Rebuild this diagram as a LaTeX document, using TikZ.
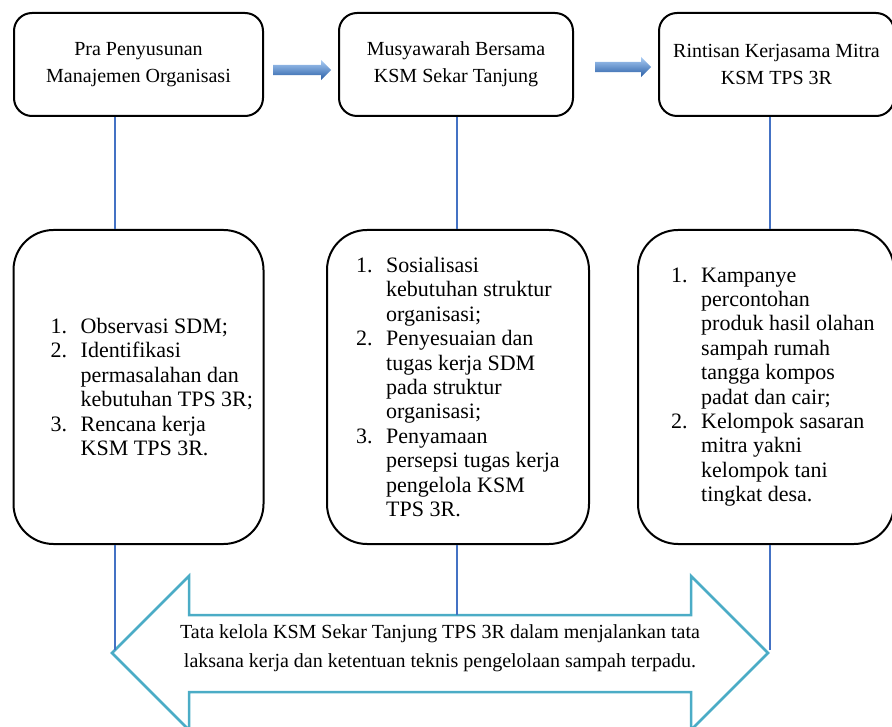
\documentclass[tikz,border=0pt]{standalone}
\usepackage{fontspec}
\setmainfont{Liberation Serif}
\usepackage{tikz}
\usetikzlibrary{positioning, shapes.arrows}
\definecolor{azulclaro}{RGB}{172,206,245}
\definecolor{azulmedio}{RGB}{80,140,214}
\definecolor{azuloscuro}{RGB}{38,92,165}
\definecolor{azullinea}{RGB}{68,114,196}
\definecolor{turquesa}{RGB}{75,172,198}
\tikzset{
	caja/.style={draw, line width=2pt, rounded corners=18pt, minimum height=103pt, align=center, font=\fontsize{20}{27}\selectfont}, % Cajas de arriba
	cajagrande/.style={draw, line width=2pt, rounded corners=40pt, minimum height=314pt}, % Cajas de abajo
	lista/.style={align=left, inner sep=0pt, font=\fontsize{22}{24.4}\selectfont}, % Texto de las listas
	enlace/.style={draw=azullinea, line width=2pt}, % Lineas verticales
	flechaazul/.style={single arrow, single arrow head extend=5pt, inner sep=5pt, minimum height=58pt, top color=azulclaro, middle color=azulmedio, bottom color=azuloscuro, draw=none} % Flechas entre cajas
}
\newcommand{\num}[1]{\makebox[30pt][l]{#1}}
\newcommand{\sangria}{\hspace*{30pt}}

\begin{document}
\begin{tikzpicture}[x=1pt, y=-1pt]
	\useasboundingbox (0,0) rectangle (892,727);
	\node[caja, minimum width=249pt] (pra) at (138.5,64.5) {Pra Penyusunan\\Manajemen Organisasi};
	\node[caja, minimum width=234pt, right=74pt of pra] (musy) {Musyawarah Bersama\\KSM Sekar Tanjung};
	\node[caja, minimum width=235pt, right=84pt of musy] (rint) {Rintisan Kerjasama Mitra\\KSM TPS 3R};
	\node[flechaazul, right=9pt of pra, yshift=-5.5pt] (f1) {};
	\node[flechaazul, minimum height=56pt, right=21pt of musy, yshift=-2.5pt] (f2) {};
	\node[cajagrande, minimum width=250pt, below=112pt of pra] (obs) {};
	\node[cajagrande, minimum width=262pt, below=112pt of musy, xshift=2pt] (sos) {};
	\node[cajagrande, minimum width=256pt, below=112pt of rint, xshift=-10.5pt] (kamp) {};
	\node[lista, right=38pt of obs.west] (lobs) {\num{1.}Observasi SDM;\\
		\num{2.}Identifikasi\\ \sangria permasalahan dan\\ \sangria kebutuhan TPS 3R;\\
		\num{3.}Rencana kerja\\ \sangria KSM TPS 3R.};
	\node[lista, right=30pt of sos.west] (lsos) {\num{1.}Sosialisasi\\ \sangria kebutuhan struktur\\ \sangria organisasi;\\
		\num{2.}Penyesuaian dan\\ \sangria tugas kerja SDM\\ \sangria pada struktur\\ \sangria organisasi;\\
		\num{3.}Penyamaan\\ \sangria persepsi tugas kerja\\ \sangria pengelola KSM\\ \sangria TPS 3R.};
	\node[lista, right=34pt of kamp.west] (lkamp) {\num{1.}Kampanye\\ \sangria percontohan\\ \sangria produk hasil olahan\\
		\sangria sampah rumah\\ \sangria tangga kompos\\ \sangria padat dan cair;\\
		\num{2.}Kelompok sasaran\\ \sangria mitra yakni\\ \sangria kelompok tani\\ \sangria tingkat desa.};
	% flecha doble de abajo
	\draw[turquesa, line width=2.5pt] (112,653) -- (189,576) -- (189,615) -- (691,615) -- (691,576) -- (768,653)
		-- (691,730) -- (691,692) -- (189,692) -- (189,730) -- cycle;
	\node[align=center, font=\fontsize{20}{29}\selectfont] (meta) at (440,648) {Tata kelola KSM Sekar Tanjung TPS 3R dalam menjalankan tata\\laksana kerja dan ketentuan teknis pengelolaan sampah terpadu.};
	\coordinate (l1) at (115,0);
	\coordinate (l2) at (457,0);
	\coordinate (l3) at (770,0);
	\coordinate (fin1) at (115,650);
	\coordinate (fin2) at (457,615);
	\coordinate (fin3) at (770,650);
	\draw[enlace] (pra.south -| l1) -- (obs.north -| l1);
	\draw[enlace] (musy.south -| l2) -- (sos.north -| l2);
	\draw[enlace] (rint.south -| l3) -- (kamp.north -| l3);
	\draw[enlace] (obs.south -| l1) -- (fin1);
	\draw[enlace] (sos.south -| l2) -- (fin2);
	\draw[enlace] (kamp.south -| l3) -- (fin3);
\end{tikzpicture}
\end{document}
